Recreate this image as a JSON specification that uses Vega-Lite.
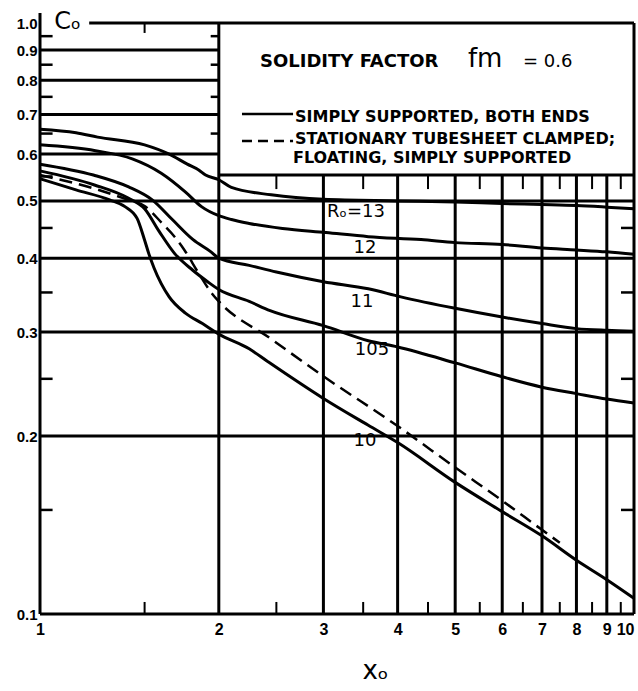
{
  "$schema": "https://vega.github.io/schema/vega-lite/v6.json",
  "width": 594,
  "height": 591,
  "autosize": {"type": "none"},
  "padding": {"left": 40, "top": 23, "right": 4, "bottom": 77},
  "background": "white",
  "config": {
    "view": {"stroke": null},
    "font": "DejaVu Sans",
    "axis": {"domain": false, "ticks": false, "grid": false, "labelColor": "black", "titleColor": "black", "labelFlush": false, "labelOverlap": false},
    "axisX": {
      "values": [1, 2, 3, 4, 5, 6, 7, 8, 9, 10], "format": "~g",
      "labelFont": "Liberation Sans", "labelFontSize": 16, "labelFontWeight": "bold", "labelPadding": 7, "labelBound": false,
      "labelAlign": {"condition": {"test": "datum.value >= 10", "value": "right"}, "value": "center"},
      "titleFontSize": 26, "titleFontWeight": "normal",
      "titleX": 335, "titleY": 64, "titleBaseline": "alphabetic", "titleAlign": "center"
    },
    "axisY": {
      "values": [0.1, 0.2, 0.3, 0.4, 0.5, 0.6, 0.7, 0.8, 0.9, 1.0], "format": ".1f",
      "labelFont": "Liberation Sans", "labelFontSize": 15, "labelFontWeight": "bold", "labelPadding": 3,
      "titleFontSize": 24, "titleFontWeight": "normal",
      "titleAngle": 0, "titleX": 27, "titleY": 5, "titleBaseline": "alphabetic", "titleAlign": "center"
    }
  },
  "datasets": {
    "hgrid": [
      {"y": 0.1, "from": 1, "to": 10},
      {"y": 0.2, "from": 1, "to": 10},
      {"y": 0.3, "from": 1, "to": 10},
      {"y": 0.4, "from": 1, "to": 10},
      {"y": 0.5, "from": 1, "to": 10},
      {"y": 0.553, "from": 2, "to": 10},
      {"y": 0.6, "from": 1, "to": 2},
      {"y": 0.7, "from": 1, "to": 2},
      {"y": 0.8, "from": 1, "to": 2},
      {"y": 0.9, "from": 1, "to": 2},
      {"y": 1.0, "from": 1.21, "to": 10}
    ],
    "vgrid": [
      {"x": 1, "from": 0.1, "to": 1.04},
      {"x": 2, "from": 0.1, "to": 1.0},
      {"x": 3, "from": 0.1, "to": 0.553},
      {"x": 4, "from": 0.1, "to": 0.553},
      {"x": 5, "from": 0.1, "to": 0.553},
      {"x": 6, "from": 0.1, "to": 0.553},
      {"x": 7, "from": 0.1, "to": 0.553},
      {"x": 8, "from": 0.1, "to": 0.553},
      {"x": 9, "from": 0.1, "to": 0.553},
      {"x": 10, "from": 0.1, "to": 1.0}
    ],
    "xhalf": [{"x": 1.5}, {"x": 2.5}, {"x": 3.5}, {"x": 4.5}, {"x": 5.5}, {"x": 6.5}, {"x": 7.5}, {"x": 8.5}, {"x": 9.5}],
    "boxticks": [{"x": 2.5}, {"x": 3.5}, {"x": 4.5}, {"x": 5.5}, {"x": 6.5}, {"x": 7.5}, {"x": 8.5}, {"x": 9.5}],
    "lefticks": [{"y": 0.15}, {"y": 0.25}, {"y": 0.35}, {"y": 0.45}, {"y": 0.55}, {"y": 0.65}, {"y": 0.75}, {"y": 0.85}, {"y": 0.95}],
    "x2ticks": [{"y": 0.65}, {"y": 0.75}, {"y": 0.85}, {"y": 0.95}],
    "rightticks": [{"y": 0.15}, {"y": 0.25}, {"y": 0.35}, {"y": 0.45}],
    "curves": [
      {"curve": "13", "x": 1.0, "y": 0.661}, {"curve": "13", "x": 1.15, "y": 0.652}, {"curve": "13", "x": 1.25, "y": 0.641},
      {"curve": "13", "x": 1.5, "y": 0.622}, {"curve": "13", "x": 1.65, "y": 0.6}, {"curve": "13", "x": 1.77, "y": 0.577},
      {"curve": "13", "x": 1.85, "y": 0.564}, {"curve": "13", "x": 1.9, "y": 0.553}, {"curve": "13", "x": 2.0, "y": 0.543},
      {"curve": "13", "x": 2.1, "y": 0.527}, {"curve": "13", "x": 2.45, "y": 0.512}, {"curve": "13", "x": 3.0, "y": 0.503},
      {"curve": "13", "x": 4.0, "y": 0.5}, {"curve": "13", "x": 5, "y": 0.498}, {"curve": "13", "x": 6, "y": 0.495},
      {"curve": "13", "x": 7, "y": 0.493}, {"curve": "13", "x": 8, "y": 0.491}, {"curve": "13", "x": 9, "y": 0.488},
      {"curve": "13", "x": 10, "y": 0.485},
      {"curve": "12", "x": 1.0, "y": 0.622}, {"curve": "12", "x": 1.24, "y": 0.608}, {"curve": "12", "x": 1.43, "y": 0.589},
      {"curve": "12", "x": 1.6, "y": 0.557}, {"curve": "12", "x": 1.76, "y": 0.517}, {"curve": "12", "x": 1.87, "y": 0.489},
      {"curve": "12", "x": 2.0, "y": 0.472}, {"curve": "12", "x": 2.1, "y": 0.465}, {"curve": "12", "x": 2.25, "y": 0.458},
      {"curve": "12", "x": 2.56, "y": 0.449}, {"curve": "12", "x": 3.03, "y": 0.442}, {"curve": "12", "x": 3.57, "y": 0.435},
      {"curve": "12", "x": 4.38, "y": 0.43}, {"curve": "12", "x": 5, "y": 0.425}, {"curve": "12", "x": 6, "y": 0.422},
      {"curve": "12", "x": 7, "y": 0.416}, {"curve": "12", "x": 8, "y": 0.413}, {"curve": "12", "x": 9, "y": 0.41},
      {"curve": "12", "x": 10, "y": 0.406},
      {"curve": "11", "x": 1.0, "y": 0.577}, {"curve": "11", "x": 1.23, "y": 0.553}, {"curve": "11", "x": 1.41, "y": 0.528},
      {"curve": "11", "x": 1.545, "y": 0.502}, {"curve": "11", "x": 1.67, "y": 0.465}, {"curve": "11", "x": 1.81, "y": 0.43},
      {"curve": "11", "x": 1.94, "y": 0.41}, {"curve": "11", "x": 2.0, "y": 0.4}, {"curve": "11", "x": 2.25, "y": 0.389},
      {"curve": "11", "x": 2.5, "y": 0.379}, {"curve": "11", "x": 3.0, "y": 0.365}, {"curve": "11", "x": 3.57, "y": 0.355},
      {"curve": "11", "x": 4.05, "y": 0.344}, {"curve": "11", "x": 5, "y": 0.329}, {"curve": "11", "x": 6, "y": 0.318},
      {"curve": "11", "x": 7, "y": 0.31}, {"curve": "11", "x": 8, "y": 0.304}, {"curve": "11", "x": 9, "y": 0.302},
      {"curve": "11", "x": 10, "y": 0.301},
      {"curve": "10.5", "x": 1.0, "y": 0.562}, {"curve": "10.5", "x": 1.235, "y": 0.532}, {"curve": "10.5", "x": 1.405, "y": 0.506},
      {"curve": "10.5", "x": 1.5, "y": 0.485}, {"curve": "10.5", "x": 1.587, "y": 0.444}, {"curve": "10.5", "x": 1.683, "y": 0.408},
      {"curve": "10.5", "x": 1.806, "y": 0.382}, {"curve": "10.5", "x": 1.915, "y": 0.365}, {"curve": "10.5", "x": 2.0, "y": 0.354},
      {"curve": "10.5", "x": 2.25, "y": 0.338}, {"curve": "10.5", "x": 2.44, "y": 0.326}, {"curve": "10.5", "x": 3.0, "y": 0.3075},
      {"curve": "10.5", "x": 3.57, "y": 0.29}, {"curve": "10.5", "x": 4.0, "y": 0.283}, {"curve": "10.5", "x": 5, "y": 0.266},
      {"curve": "10.5", "x": 6, "y": 0.252}, {"curve": "10.5", "x": 7, "y": 0.242}, {"curve": "10.5", "x": 8, "y": 0.236},
      {"curve": "10.5", "x": 9, "y": 0.231}, {"curve": "10.5", "x": 10, "y": 0.2275},
      {"curve": "10", "x": 1.0, "y": 0.545}, {"curve": "10", "x": 1.15, "y": 0.522}, {"curve": "10", "x": 1.31, "y": 0.502},
      {"curve": "10", "x": 1.39, "y": 0.489}, {"curve": "10", "x": 1.457, "y": 0.467}, {"curve": "10", "x": 1.497, "y": 0.432},
      {"curve": "10", "x": 1.526, "y": 0.406}, {"curve": "10", "x": 1.556, "y": 0.385}, {"curve": "10", "x": 1.65, "y": 0.344},
      {"curve": "10", "x": 1.757, "y": 0.323}, {"curve": "10", "x": 1.877, "y": 0.31}, {"curve": "10", "x": 2.0, "y": 0.2976},
      {"curve": "10", "x": 2.25, "y": 0.281}, {"curve": "10", "x": 2.41, "y": 0.268}, {"curve": "10", "x": 3.0, "y": 0.2316},
      {"curve": "10", "x": 3.57, "y": 0.2086}, {"curve": "10", "x": 4.0, "y": 0.195}, {"curve": "10", "x": 5, "y": 0.167},
      {"curve": "10", "x": 6, "y": 0.149}, {"curve": "10", "x": 7, "y": 0.1356}, {"curve": "10", "x": 8, "y": 0.1233},
      {"curve": "10", "x": 9, "y": 0.1143}, {"curve": "10", "x": 10, "y": 0.1063}
    ],
    "dashed": [
      {"x": 1.0, "y": 0.553}, {"x": 1.23, "y": 0.525}, {"x": 1.4, "y": 0.503}, {"x": 1.5, "y": 0.49},
      {"x": 1.6, "y": 0.46}, {"x": 1.7, "y": 0.43}, {"x": 1.75, "y": 0.413}, {"x": 1.85, "y": 0.377},
      {"x": 1.95, "y": 0.348}, {"x": 2.0, "y": 0.338}, {"x": 2.45, "y": 0.292}, {"x": 3.0, "y": 0.2525},
      {"x": 4.0, "y": 0.208}, {"x": 5, "y": 0.177}, {"x": 6, "y": 0.1555}, {"x": 7, "y": 0.1388}, {"x": 7.5, "y": 0.132}
    ],
    "curvelabels": [
      {"x": 3.404, "y": 0.4788, "text": "Rₒ=13"},
      {"x": 3.525, "y": 0.4162, "text": "12"},
      {"x": 3.484, "y": 0.3372, "text": "11"},
      {"x": 3.622, "y": 0.2797, "text": "105"},
      {"x": 3.525, "y": 0.1962, "text": "10"}
    ],
    "legendtitle": [{"x": 2.346, "y": 0.8424, "text": "SOLIDITY  FACTOR"}],
    "legendvalue": [{"x": 6.504, "y": 0.8424, "text": "=  0.6"}],
    "fm": [{"x": 5.254, "y": 0.8424, "text": "fm"}],
    "legendtext": [
      {"x": 2.688, "y": 0.6803, "text": "SIMPLY SUPPORTED, BOTH ENDS"},
      {"x": 2.688, "y": 0.624, "text": "STATIONARY TUBESHEET CLAMPED;"},
      {"x": 2.667, "y": 0.5797, "text": "FLOATING, SIMPLY SUPPORTED"}
    ],
    "legendlines": [
      {"from": 2.188, "to": 2.667, "y": 0.7015, "kind": "solid"},
      {"from": 2.188, "to": 2.667, "y": 0.6314, "kind": "dashed"}
    ]
  },
  "layer": [
    {
      "data": {"name": "hgrid"},
      "mark": {"type": "rule", "strokeWidth": 3, "color": "black"},
      "encoding": {
        "x": {"field": "from", "type": "quantitative", "title": "xₒ", "scale": {"type": "log", "domain": [1, 10], "nice": false}},
        "x2": {"field": "to"},
        "y": {"field": "y", "type": "quantitative", "title": "Cₒ", "scale": {"type": "log", "domain": [0.1, 1], "nice": false}}
      }
    },
    {
      "data": {"name": "vgrid"},
      "mark": {"type": "rule", "strokeWidth": 3, "color": "black"},
      "encoding": {
        "x": {"field": "x", "type": "quantitative", "title": "xₒ"},
        "y": {"field": "from", "type": "quantitative", "title": "Cₒ"},
        "y2": {"field": "to"}
      }
    },
    {
      "data": {"name": "xhalf"},
      "mark": {"type": "rule", "strokeWidth": 2, "color": "black"},
      "encoding": {
        "x": {"field": "x", "type": "quantitative", "title": "xₒ"},
        "y": {"datum": 0.1, "type": "quantitative", "title": "Cₒ"},
        "y2": {"datum": 0.1048}
      }
    },
    {
      "data": {"name": "boxticks"},
      "mark": {"type": "rule", "strokeWidth": 2, "color": "black"},
      "encoding": {
        "x": {"field": "x", "type": "quantitative", "title": "xₒ"},
        "y": {"datum": 0.553, "type": "quantitative", "title": "Cₒ"},
        "y2": {"datum": 0.5236}
      }
    },
    {
      "data": {"values": [{"x": 1.5}]},
      "mark": {"type": "rule", "strokeWidth": 2, "color": "black"},
      "encoding": {
        "x": {"field": "x", "type": "quantitative", "title": "xₒ"},
        "y": {"datum": 1.0, "type": "quantitative", "title": "Cₒ"},
        "y2": {"datum": 0.962}
      }
    },
    {
      "data": {"name": "lefticks"},
      "mark": {"type": "rule", "strokeWidth": 2.5, "color": "black"},
      "encoding": {
        "y": {"field": "y", "type": "quantitative", "title": "Cₒ"},
        "x": {"datum": 1, "type": "quantitative", "title": "xₒ"},
        "x2": {"datum": 1.05}
      }
    },
    {
      "data": {"name": "x2ticks"},
      "mark": {"type": "rule", "strokeWidth": 2.5, "color": "black"},
      "encoding": {
        "y": {"field": "y", "type": "quantitative", "title": "Cₒ"},
        "x": {"datum": 2, "type": "quantitative", "title": "xₒ"},
        "x2": {"datum": 1.938}
      }
    },
    {
      "data": {"name": "rightticks"},
      "mark": {"type": "rule", "strokeWidth": 2.5, "color": "black"},
      "encoding": {
        "y": {"field": "y", "type": "quantitative", "title": "Cₒ"},
        "x": {"datum": 10, "type": "quantitative", "title": "xₒ"},
        "x2": {"datum": 9.508}
      }
    },
    {
      "data": {"name": "curves"},
      "mark": {"type": "line", "strokeWidth": 3, "color": "black", "interpolate": "monotone"},
      "encoding": {
        "x": {"field": "x", "type": "quantitative", "title": "xₒ"},
        "y": {"field": "y", "type": "quantitative", "title": "Cₒ"},
        "detail": {"field": "curve", "type": "nominal"},
        "order": {"field": "x", "type": "quantitative"}
      }
    },
    {
      "data": {"name": "dashed"},
      "mark": {"type": "line", "strokeWidth": 2.5, "color": "black", "strokeDash": [13, 7], "interpolate": "monotone"},
      "encoding": {
        "x": {"field": "x", "type": "quantitative", "title": "xₒ"},
        "y": {"field": "y", "type": "quantitative", "title": "Cₒ"},
        "order": {"field": "x", "type": "quantitative"}
      }
    },
    {
      "data": {"name": "legendlines"},
      "transform": [{"filter": "datum.kind === 'solid'"}],
      "mark": {"type": "rule", "strokeWidth": 2.5, "color": "black"},
      "encoding": {
        "x": {"field": "from", "type": "quantitative", "title": "xₒ"},
        "x2": {"field": "to"},
        "y": {"field": "y", "type": "quantitative", "title": "Cₒ"}
      }
    },
    {
      "data": {"name": "legendlines"},
      "transform": [{"filter": "datum.kind === 'dashed'"}],
      "mark": {"type": "rule", "strokeWidth": 2.5, "color": "black", "strokeDash": [10, 6]},
      "encoding": {
        "x": {"field": "from", "type": "quantitative", "title": "xₒ"},
        "x2": {"field": "to"},
        "y": {"field": "y", "type": "quantitative", "title": "Cₒ"}
      }
    },
    {
      "data": {"name": "curvelabels"},
      "mark": {"type": "text", "fontSize": 18, "color": "black", "align": "center", "baseline": "middle"},
      "encoding": {
        "x": {"field": "x", "type": "quantitative", "title": "xₒ"},
        "y": {"field": "y", "type": "quantitative", "title": "Cₒ"},
        "text": {"field": "text"}
      }
    },
    {
      "data": {"name": "legendtitle"},
      "mark": {"type": "text", "fontSize": 18, "fontWeight": "bold", "color": "black", "align": "left", "baseline": "alphabetic"},
      "encoding": {
        "x": {"field": "x", "type": "quantitative", "title": "xₒ"},
        "y": {"field": "y", "type": "quantitative", "title": "Cₒ"},
        "text": {"field": "text"}
      }
    },
    {
      "data": {"name": "legendvalue"},
      "mark": {"type": "text", "fontSize": 18, "color": "black", "align": "left", "baseline": "alphabetic"},
      "encoding": {
        "x": {"field": "x", "type": "quantitative", "title": "xₒ"},
        "y": {"field": "y", "type": "quantitative", "title": "Cₒ"},
        "text": {"field": "text"}
      }
    },
    {
      "data": {"name": "fm"},
      "mark": {"type": "text", "fontSize": 26, "color": "black", "align": "left", "baseline": "alphabetic"},
      "encoding": {
        "x": {"field": "x", "type": "quantitative", "title": "xₒ"},
        "y": {"field": "y", "type": "quantitative", "title": "Cₒ"},
        "text": {"field": "text"}
      }
    },
    {
      "data": {"name": "legendtext"},
      "mark": {"type": "text", "fontSize": 16, "fontWeight": "bold", "color": "black", "align": "left", "baseline": "alphabetic"},
      "encoding": {
        "x": {"field": "x", "type": "quantitative", "title": "xₒ"},
        "y": {"field": "y", "type": "quantitative", "title": "Cₒ"},
        "text": {"field": "text"}
      }
    }
  ]
}
